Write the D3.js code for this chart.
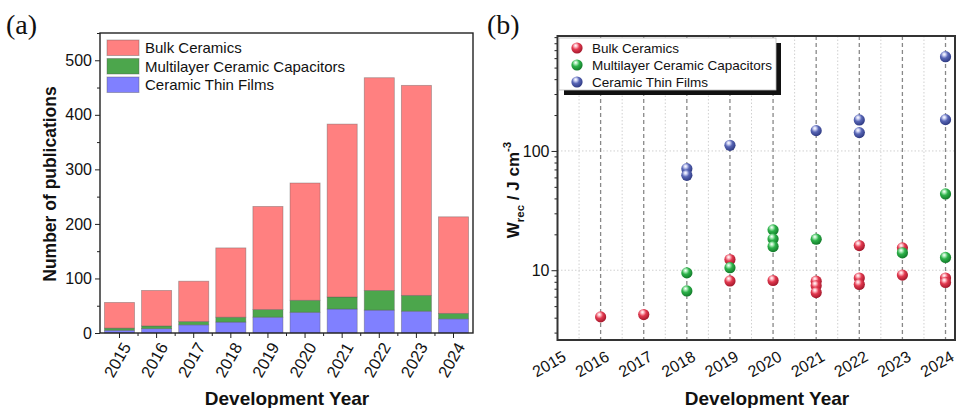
<!DOCTYPE html>
<html>
<head>
<meta charset="utf-8">
<script src="https://cdn.jsdelivr.net/npm/d3@7"></script>
<style>
  body { margin: 0; background: #fff; }
  svg { font-family: "Liberation Sans", Arial, sans-serif; }
</style>
</head>
<body>
<svg id="chart" width="956" height="408"></svg>
<script>
// ---- data (a): publications per year ----
var years = ["2015","2016","2017","2018","2019","2020","2021","2022","2023","2024"];
var thinFilms = [5, 8, 15, 20, 29, 38, 44, 42, 40, 26];
var mlcc = [4, 5, 6, 9, 14, 22, 22, 36, 29, 10];
var bulk = [47, 65, 74, 127, 189, 215, 317, 390, 385, 177];
var seriesNames = ["Bulk Ceramics", "Multilayer Ceramic Capacitors", "Ceramic Thin Films"];
var yTicksA = [0, 100, 200, 300, 400, 500];

// ---- data (b): Wrec points [year, value] ----
var bulkPts = [[2016,4.06],[2017,4.25],[2019,12.3],[2019,8.13],[2020,8.2],[2021,8.1],[2021,7.4],[2021,6.5],
               [2022,16.1],[2022,8.6],[2022,7.6],[2023,15.4],[2023,9.1],[2024,8.6],[2024,7.9]];
var mlccPts = [[2018,9.5],[2018,6.7],[2019,10.5],[2020,21.8],[2020,18.3],[2020,15.8],[2021,18.2],
               [2023,14.0],[2024,43.6],[2024,12.8]];
var filmPts = [[2018,71],[2018,62.5],[2019,111.5],[2021,148],[2022,182],[2022,142.5],[2024,617],[2024,183]];
var yearTicksB = [2015,2016,2017,2018,2019,2020,2021,2022,2023,2024];
var yTicksB = [10, 100];

var svg = d3.select("#chart");

// =================== panel (a) ===================
var A = {left: 100, right: 473, top: 33, bottom: 333};
var x = d3.scaleBand().domain(years).range([A.left, A.right]).paddingInner(0.19).paddingOuter(0.12);
var y = d3.scaleLinear().domain([0, 550]).range([A.bottom, A.top]);

var rows = years.map(function(yr, i) {
    return {year: yr, thin: thinFilms[i], mlcc: mlcc[i], bulk: bulk[i]};
});
var stack = d3.stack().keys(["thin", "mlcc", "bulk"])(rows);
var colA = {thin: "#8080ff", mlcc: "#4ca64c", bulk: "#ff8080"};

var ga = svg.append("g");
ga.selectAll("g.layer")
    .data(stack)
    .enter().append("g")
    .attr("fill", function(d) { return colA[d.key]; })
    .selectAll("rect")
    .data(function(d) { return d; })
    .enter().append("rect")
    .attr("x", function(d) { return x(d.data.year); })
    .attr("width", x.bandwidth())
    .attr("y", function(d) { return y(d[1]); })
    .attr("height", function(d) { return y(d[0]) - y(d[1]); })
    .attr("stroke", "#555")
    .attr("stroke-opacity", 0.45)
    .attr("stroke-width", 0.8);

// left axis
var yAxisA = ga.append("g")
    .attr("transform", "translate(" + A.left + ",0)")
    .call(d3.axisLeft(y).tickValues(yTicksA).tickSize(5).tickPadding(3));
yAxisA.select(".domain").remove();
ga.append("g").attr("transform", "translate(" + A.left + ",0)")
    .call(d3.axisLeft(y).tickValues([50,150,250,350,450,550]).tickSize(3).tickFormat(""))
    .select(".domain").remove();

// bottom axis
var xAxisA = ga.append("g")
    .attr("transform", "translate(0," + A.bottom + ")")
    .call(d3.axisBottom(x).tickSize(5).tickFormat(""));
xAxisA.select(".domain").remove();
var step = x.step();
ga.selectAll("line.minorx")
    .data(years.slice(1))
    .enter().append("line")
    .attr("x1", function(d) { return x(d) - (step - x.bandwidth()) / 2; })
    .attr("x2", function(d) { return x(d) - (step - x.bandwidth()) / 2; })
    .attr("y1", A.bottom).attr("y2", A.bottom + 3)
    .attr("stroke", "#222");
ga.selectAll("text.xlab")
    .data(years)
    .enter().append("text")
    .attr("transform", function(d) {
        return "translate(" + (x(d) + x.bandwidth() / 2 + 7) + "," + (A.bottom + 11) + ") rotate(-60)";
    })
    .attr("text-anchor", "end")
    .attr("dy", "0.35em")
    .attr("font-size", 16.5)
    .attr("fill", "#111")
    .text(function(d) { return d; });

yAxisA.selectAll("text").attr("font-size", 16).attr("fill", "#111");
ga.selectAll(".tick line").attr("stroke", "#222");

// frame
ga.append("rect")
    .attr("x", A.left).attr("y", A.top)
    .attr("width", A.right - A.left).attr("height", A.bottom - A.top)
    .attr("fill", "none").attr("stroke", "#222").attr("stroke-width", 1.4);

// titles
ga.append("text")
    .attr("transform", "translate(56," + ((A.top + A.bottom) / 2 + 1) + ") rotate(-90)")
    .attr("text-anchor", "middle")
    .attr("font-size", 17.5).attr("font-weight", "bold").attr("fill", "#111")
    .text("Number of publications");
ga.append("text")
    .attr("x", 287).attr("y", 405)
    .attr("text-anchor", "middle")
    .attr("font-size", 19).attr("font-weight", "bold").attr("fill", "#111")
    .text("Development Year");
ga.append("text")
    .attr("x", 6).attr("y", 34)
    .attr("font-family", "Liberation Serif, serif")
    .attr("font-size", 28).attr("fill", "#111")
    .text("(a)");

// legend (a)
var legA = ga.append("g").attr("transform", "translate(107,40)");
var legKeys = ["bulk", "mlcc", "thin"];
legKeys.forEach(function(k, i) {
    legA.append("rect")
        .attr("x", 0).attr("y", i * 18.5)
        .attr("width", 32).attr("height", 15.5)
        .attr("fill", colA[k]).attr("stroke", "#555").attr("stroke-opacity", 0.4);
    legA.append("text")
        .attr("x", 38).attr("y", i * 18.5 + 8)
        .attr("dy", "0.35em")
        .attr("font-size", 15).attr("fill", "#111")
        .text(seriesNames[i]);
});

// =================== panel (b) ===================
var B = {left: 557.5, right: 955, top: 36, bottom: 340};
var xb = d3.scaleLinear().domain([2015, 2024.22]).range([B.left, B.right]);
var yb = d3.scaleLog().domain([2.6, 920]).range([B.bottom, B.top]);

var defs = svg.append("defs");
var colB = {bulk: ["#ffc4cc", "#e2394f", "#a3182c"],
            mlcc: ["#b8f0c4", "#2db24a", "#127a2a"],
            film: ["#d4d8f6", "#5866b6", "#2f3a82"]};
Object.keys(colB).forEach(function(k) {
    var g = defs.append("radialGradient").attr("id", "sph-" + k)
        .attr("cx", "0.4").attr("cy", "0.35").attr("r", "0.65")
        .attr("fx", "0.38").attr("fy", "0.28");
    g.append("stop").attr("offset", "0").attr("stop-color", "#ffffff");
    g.append("stop").attr("offset", "0.18").attr("stop-color", colB[k][0]);
    g.append("stop").attr("offset", "0.5").attr("stop-color", colB[k][1]);
    g.append("stop").attr("offset", "1").attr("stop-color", colB[k][2]);
});

var gb = svg.append("g");
// clip for panel b
defs.append("clipPath").attr("id", "clipB").append("rect")
    .attr("x", B.left).attr("y", B.top).attr("width", B.right - B.left).attr("height", B.bottom - B.top);

var grid = gb.append("g").attr("clip-path", "url(#clipB)");
// minor vertical dotted
grid.selectAll("line.vminor")
    .data(yearTicksB.map(function(d) { return d + 0.5; }))
    .enter().append("line")
    .attr("x1", function(d) { return xb(d); }).attr("x2", function(d) { return xb(d); })
    .attr("y1", B.top).attr("y2", B.bottom)
    .attr("stroke", "#d0d0d0").attr("stroke-width", 1).attr("stroke-dasharray", "1.5,2");
// horizontal dotted
grid.selectAll("line.hgrid")
    .data(yTicksB)
    .enter().append("line")
    .attr("x1", B.left).attr("x2", B.right)
    .attr("y1", function(d) { return yb(d); }).attr("y2", function(d) { return yb(d); })
    .attr("stroke", "#d0d0d0").attr("stroke-width", 1).attr("stroke-dasharray", "1.5,2");
// major vertical dashed
grid.selectAll("line.vmajor")
    .data(yearTicksB.slice(1))
    .enter().append("line")
    .attr("x1", function(d) { return xb(d); }).attr("x2", function(d) { return xb(d); })
    .attr("y1", B.top).attr("y2", B.bottom)
    .attr("stroke", "#888").attr("stroke-width", 1.3).attr("stroke-dasharray", "4,3");

// points
function drawPts(pts, key) {
    gb.append("g").selectAll("circle")
        .data(pts)
        .enter().append("circle")
        .attr("cx", function(d) { return xb(d[0]); })
        .attr("cy", function(d) { return yb(d[1]); })
        .attr("r", 5.6)
        .attr("fill", "url(#sph-" + key + ")");
}
drawPts(bulkPts, "bulk");
drawPts(mlccPts, "mlcc");
drawPts(filmPts, "film");

// left axis (log)
var yAxisB = gb.append("g")
    .attr("transform", "translate(" + B.left + ",0)")
    .call(d3.axisLeft(yb).tickValues(yTicksB).tickFormat(d3.format("d")).tickSize(6).tickPadding(2));
yAxisB.select(".domain").remove();
yAxisB.selectAll("text").attr("font-size", 16).attr("fill", "#111");
var minorB = [3,4,5,6,7,8,9,20,30,40,50,60,70,80,90,200,300,400,500,600,700,800,900];
gb.append("g").attr("transform", "translate(" + B.left + ",0)")
    .call(d3.axisLeft(yb).tickValues(minorB).tickSize(3).tickFormat(""))
    .select(".domain").remove();
gb.selectAll(".tick line").attr("stroke", "#222");

// x labels (b)
gb.selectAll("text.xlabb")
    .data(yearTicksB)
    .enter().append("text")
    .attr("transform", function(d) {
        return "translate(" + (xb(d) + 7) + "," + (B.bottom + 15) + ") rotate(-30)";
    })
    .attr("text-anchor", "end")
    .attr("dy", "0.35em")
    .attr("font-size", 16).attr("fill", "#111")
    .text(function(d) { return d; });

// frame (b)
gb.append("rect")
    .attr("x", B.left).attr("y", B.top)
    .attr("width", B.right - B.left).attr("height", B.bottom - B.top)
    .attr("fill", "none").attr("stroke", "#333").attr("stroke-width", 2);

// titles (b)
var yt = gb.append("text")
    .attr("transform", "translate(519,190) rotate(-90)")
    .attr("text-anchor", "middle")
    .attr("font-size", 17).attr("font-weight", "bold").attr("fill", "#111");
yt.append("tspan").text("W");
yt.append("tspan").attr("font-size", 11.5).attr("dy", 5).text("rec");
yt.append("tspan").attr("dy", -5).text(" / J cm");
yt.append("tspan").attr("font-size", 11.5).attr("dy", -8).text("-3");

gb.append("text")
    .attr("x", 767).attr("y", 405)
    .attr("text-anchor", "middle")
    .attr("font-size", 19).attr("font-weight", "bold").attr("fill", "#111")
    .text("Development Year");
gb.append("text")
    .attr("x", 487).attr("y", 34)
    .attr("font-family", "Liberation Serif, serif")
    .attr("font-size", 28).attr("fill", "#111")
    .text("(b)");

// legend (b) with shadow
var legB = gb.append("g").attr("transform", "translate(559,38)");
legB.append("rect").attr("x", 5).attr("y", 5).attr("width", 217).attr("height", 52).attr("fill", "#111");
legB.append("rect").attr("x", 0).attr("y", 0).attr("width", 217).attr("height", 52)
    .attr("fill", "#fff").attr("stroke", "#bbb").attr("stroke-width", 0.8);
["bulk", "mlcc", "film"].forEach(function(k, i) {
    legB.append("circle").attr("cx", 18).attr("cy", 10 + i * 17).attr("r", 5.6)
        .attr("fill", "url(#sph-" + k + ")");
    legB.append("text").attr("x", 33).attr("y", 10 + i * 17).attr("dy", "0.35em")
        .attr("font-size", 13.5).attr("fill", "#111")
        .text(seriesNames[i]);
});
</script>
</body>
</html>
